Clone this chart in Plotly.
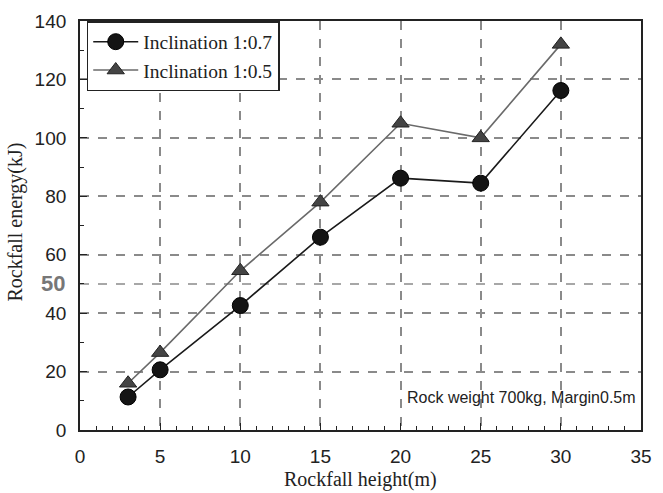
import plotly.graph_objects as go

heights = [3, 5, 10, 15, 20, 25, 30]
energy_07 = [11.3, 20.6, 42.6, 66.0, 86.2, 84.5, 116.2]
energy_05 = [16.0, 26.5, 54.5, 78.0, 105.0, 100.0, 132.0]
xticks = [0, 5, 10, 15, 20, 25, 30, 35]
yticks = [0, 20, 40, 60, 80, 100, 120, 140]

fig = go.Figure()
fig.add_trace(go.Scatter(
    x=heights, y=energy_07, mode="lines+markers", name="Inclination 1:0.7",
    line=dict(color="#1a1a1a", width=1.6),
    marker=dict(symbol="circle", size=16, color="#141414", line=dict(color="#000", width=1))))
fig.add_trace(go.Scatter(
    x=heights, y=energy_05, mode="lines+markers", name="Inclination 1:0.5",
    line=dict(color="#6a6a6a", width=1.6),
    marker=dict(symbol="triangle-up", size=15, color="#444444", line=dict(color="#222", width=1))))

# extra dashed gridline at 50
fig.add_shape(type="line", xref="x", yref="y", x0=0, x1=35, y0=50, y1=50,
              line=dict(color="#8a8a8a", width=1.5, dash="dash"), layer="below")

tickfont = dict(family="Liberation Sans, Arial", size=19, color="#222")
fig.update_xaxes(range=[0, 35], tickvals=xticks, ticks="inside", ticklen=7, tickwidth=1.3,
                 tickcolor="#222", showline=True, linecolor="#222", linewidth=1.8, mirror=True,
                 showgrid=True, gridcolor="#8a8a8a", gridwidth=1.5, griddash="dash",
                 zeroline=False, tickfont=tickfont, ticklabelstandoff=8,
                 minor=dict(dtick=1, ticks="inside", ticklen=4, tickcolor="#222", showgrid=False))
fig.update_yaxes(range=[0, 140], tickvals=yticks, ticks="inside", ticklen=7, tickwidth=1.3,
                 tickcolor="#222", showline=True, linecolor="#222", linewidth=1.8, mirror=True,
                 showgrid=True, gridcolor="#8a8a8a", gridwidth=1.5, griddash="dash",
                 zeroline=False, tickfont=tickfont, ticklabelstandoff=8,
                 minor=dict(dtick=10, ticks="inside", ticklen=4, tickcolor="#222", showgrid=False))

fig.add_annotation(text="<b>50</b>", xref="paper", yref="y", x=0, y=50, xanchor="right",
                   xshift=-13, showarrow=False,
                   font=dict(family="Liberation Sans, Arial", size=22, color="#777"))
fig.add_annotation(text="Rock weight 700kg, Margin0.5m", xref="x", yref="y", x=20.3, y=11,
                   xanchor="left", yanchor="middle", showarrow=False,
                   font=dict(family="Liberation Sans, Arial", size=16, color="#222"))
fig.add_annotation(text="Rockfall energy(kJ)", xref="paper", yref="y", x=0, y=71,
                   xanchor="center", yanchor="middle", xshift=-64, textangle=-90, showarrow=False,
                   font=dict(family="Liberation Serif, Times New Roman", size=20, color="#222"))
fig.add_annotation(text="Rockfall height(m)", xref="paper", yref="paper", x=0.5, y=0,
                   xanchor="center", yanchor="bottom", yshift=-63, showarrow=False,
                   font=dict(family="Liberation Serif, Times New Roman", size=20, color="#222"))

fig.update_layout(
    width=663, height=493, margin=dict(l=80, r=11, t=17, b=63),
    plot_bgcolor="white", paper_bgcolor="white",
    legend=dict(x=0.012, y=1.0, xanchor="left", yanchor="top",
                bgcolor="white", bordercolor="#222", borderwidth=1.5,
                font=dict(family="Liberation Serif, Times New Roman", size=19.5, color="#222"),
                itemwidth=45, tracegroupgap=0),
    showlegend=True,
)

fig.write_html("out.html")
